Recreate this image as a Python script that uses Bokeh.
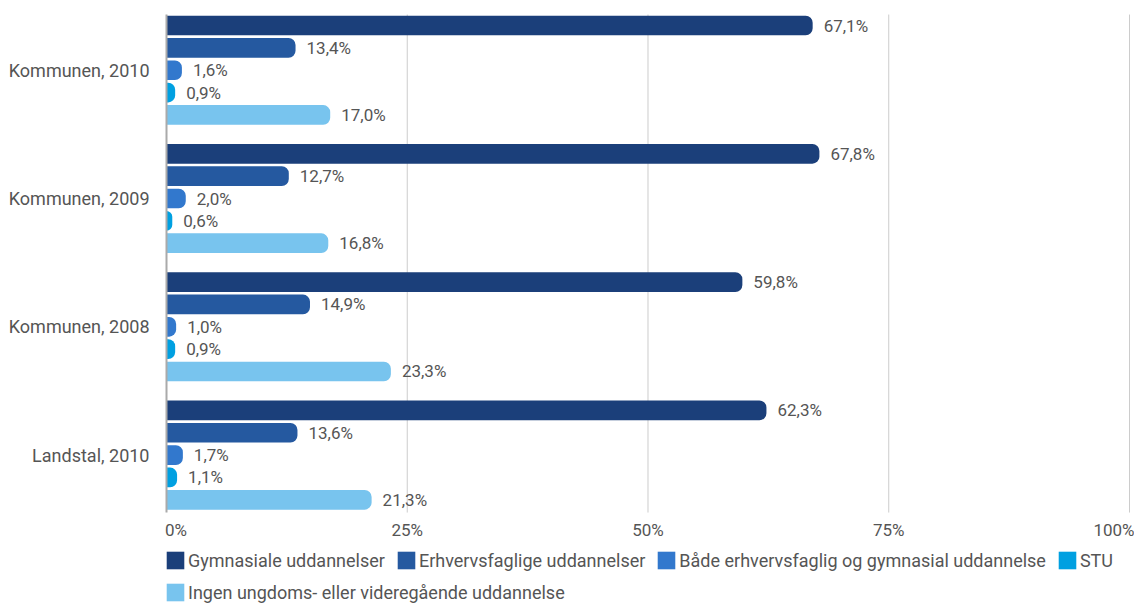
from bokeh.plotting import figure
from bokeh.models import (Range1d, FixedTicker, Legend, LegendItem, ColumnDataSource,
                          PrintfTickFormatter, LinearAxis)
from bokeh.core.properties import value
from bokeh.embed import file_html
from bokeh.resources import INLINE

categories = ["Kommunen, 2010", "Kommunen, 2009", "Kommunen, 2008", "Landstal, 2010"]
series = ["Gymnasiale uddannelser", "Erhvervsfaglige uddannelser",
          "Både erhvervsfaglig og gymnasial uddannelse", "STU",
          "Ingen ungdoms- eller videregående uddannelse"]
gymnasiale = [67.1, 67.8, 59.8, 62.3]
erhvervsfaglige = [13.4, 12.7, 14.9, 13.6]
begge = [1.6, 2.0, 1.0, 1.7]
stu = [0.9, 0.6, 0.9, 1.1]
ingen = [17.0, 16.8, 23.3, 21.3]
x_ticks = [0, 25, 50, 75, 100]

colors = ["#1b3f7a", "#2559a0", "#3278cd", "#00a0e1", "#78c4ee"]
values_by_series = [gymnasiale, erhvervsfaglige, begge, stu, ingen]

GROUP_STEP = 5.74
Y_TOP = -0.49      # top of bar area
Y_AXIS = 21.79     # where the x axis sits
FONT = "Roboto"
TXT = "#555555"
FS = "\u2007"      # figure space, shifts the 0% label to the right of its grid line

p = figure(width=1134, height=603, output_backend="svg", toolbar_location=None,
           x_range=Range1d(-17.238, 100.52), y_range=Range1d(25.86, -1.119),
           x_axis_location=None, y_axis_location=None,
           min_border_left=0, min_border_right=0, min_border_top=0,
           min_border_bottom=0)
p.outline_line_color = None
p.background_fill_color = "white"
p.border_fill_color = "white"
p.xgrid.grid_line_color = None
p.ygrid.grid_line_color = None

# grid lines (limited to the bar area)
p.segment(x0=x_ticks[1:], x1=x_ticks[1:], y0=[Y_TOP] * 4, y1=[Y_AXIS] * 4,
          line_color="#cccccc", line_width=1)

renderers = []
for s, (name, vals, col) in enumerate(zip(series, values_by_series, colors)):
    ys = [round(g * GROUP_STEP + s, 3) for g in range(len(categories))]
    src = ColumnDataSource(dict(
        y=ys, x=vals,
        lab=[("%.1f" % v).replace(".", ",") + "%" for v in vals]))
    r = p.hbar(y="y", left=0, right="x", height=0.88, source=src,
               fill_color=col, line_color=None, border_radius=(0, 7, 7, 0))
    p.text(x="x", y="y", text="lab", source=src, x_offset=11,
           text_baseline="middle", text_align="left",
           text_font=value(FONT), text_font_size="17px", text_color=TXT)
    renderers.append(r)

# y axis at x = 0
centers = [round(g * GROUP_STEP + 2, 3) for g in range(len(categories))]
yax = LinearAxis(fixed_location=0, ticker=FixedTicker(ticks=centers),
                 major_label_overrides={c: lab for c, lab in zip(centers, categories)},
                 bounds=(Y_TOP, Y_AXIS))
yax.major_tick_line_color = None
yax.minor_tick_line_color = None
yax.axis_line_color = "#aaaaaa"
yax.axis_line_width = 2
yax.major_label_standoff = 11
yax.major_label_text_font = FONT
yax.major_label_text_font_size = "18px"
yax.major_label_text_color = TXT
p.add_layout(yax, "left")

# x axis at the bottom of the bar area
xax = LinearAxis(fixed_location=Y_AXIS, ticker=FixedTicker(ticks=x_ticks),
                 formatter=PrintfTickFormatter(format="%d%%"),
                 major_label_overrides={0: FS * 2 + "0%"})
xax.axis_line_color = None
xax.major_tick_line_color = None
xax.minor_tick_line_color = None
xax.major_label_standoff = 1
xax.major_label_text_font = FONT
xax.major_label_text_font_size = "17px"
xax.major_label_text_color = TXT
p.add_layout(xax, "below")

def make_legend(items, loc):
    return Legend(items=items, location=loc, orientation="horizontal",
                  padding=0, margin=0, spacing=10, label_standoff=2,
                  glyph_width=22, glyph_height=22,
                  label_text_font=FONT, label_text_font_size="18px",
                  label_text_color=TXT, border_line_color=None,
                  background_fill_alpha=0)

items1 = [LegendItem(label=series[i], renderers=[renderers[i]]) for i in range(4)]
items2 = [LegendItem(label=series[4], renderers=[renderers[4]])]
p.add_layout(make_legend(items1, (164, 32)), "center")
p.add_layout(make_legend(items2, (164, 0)), "center")

open("out.html", "w").write(file_html(p, INLINE))
